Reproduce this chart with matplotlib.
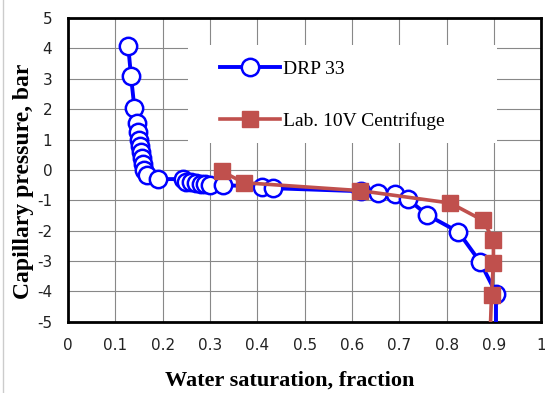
import matplotlib.pyplot as plt
from matplotlib.patches import Rectangle
from matplotlib.lines import Line2D

plt.rcParams["axes.unicode_minus"] = False

# DRP 33 (digital rock) curve
drp_sw = [0.127, 0.133, 0.14, 0.145, 0.148, 0.15, 0.152, 0.154, 0.156, 0.158,
          0.161, 0.166, 0.19, 0.243, 0.25, 0.26, 0.27, 0.28, 0.29, 0.30,
          0.328, 0.41, 0.433, 0.62, 0.655, 0.691, 0.719, 0.759, 0.825,
          0.871, 0.905, 0.905]
drp_pc = [4.08, 3.08, 2.05, 1.55, 1.25, 1.0, 0.8, 0.6, 0.4, 0.2,
          0.0, -0.15, -0.3, -0.3, -0.38, -0.4, -0.42, -0.45, -0.47, -0.48,
          -0.5, -0.55, -0.6, -0.7, -0.77, -0.8, -0.97, -1.48, -2.04,
          -3.03, -4.07, -5.0]

# Lab centrifuge curve
lab_sw = [0.325, 0.372, 0.617, 0.808, 0.877, 0.899, 0.899, 0.895, 0.893]
lab_pc = [-0.05, -0.42, -0.68, -1.09, -1.66, -2.3, -3.05, -4.12, -5.0]

xtick_labels = ["0", "0.1", "0.2", "0.3", "0.4", "0.5", "0.6", "0.7", "0.8", "0.9", "1"]

fig = plt.figure(figsize=(5.45, 3.93), dpi=100)
ax = fig.add_axes([0.125, 0.181, 0.868, 0.773])

# white legend area that hides the grid, like the Excel chart
ax.add_patch(Rectangle((0.254, 0.589), 0.653, 0.322, transform=ax.transAxes,
                       facecolor="white", edgecolor="none", zorder=1))

ax.plot(drp_sw[:-1], drp_pc[:-1], color="#0000FF", lw=2.8, marker="o", ms=12.5,
        mfc="white", mec="#0000FF", mew=1.8, label="DRP 33", zorder=3)
ax.plot(drp_sw[-2:], drp_pc[-2:], color="#0000FF", lw=2.8, zorder=3)
ax.plot(lab_sw[:-1], lab_pc[:-1], color="#C0504D", lw=2.6, marker="s", ms=11,
        mfc="#C0504D", mec="#C0504D", label="Lab. 10V Centrifuge", zorder=4)
ax.plot(lab_sw[-2:], lab_pc[-2:], color="#C0504D", lw=2.6, zorder=4)

ax.set_xlim(0, 1)
ax.set_ylim(-5, 5)
ax.set_xticks([i / 10 for i in range(11)])
ax.set_xticklabels(xtick_labels)
ax.set_yticks(range(-5, 6))
ax.tick_params(length=0, labelsize=11, labelcolor="#222222")
ax.tick_params(axis="x", pad=11.5)
ax.tick_params(axis="y", pad=11.5)
ax.grid(True, color="#888888", lw=0.8)
ax.set_axisbelow(True)
for s in ax.spines.values():
    s.set_linewidth(2)

ax.set_xlabel("Water saturation, fraction", fontfamily="Liberation Serif",
              fontweight="bold", fontsize=16, va="center")
ax.set_ylabel("Capillary pressure, bar", fontfamily="Liberation Serif",
              fontweight="bold", fontsize=17, va="center")
ax.xaxis.set_label_coords(0.469, -0.192)
ax.yaxis.set_label_coords(-0.095, 0.464)

ax.legend(loc="upper left", bbox_to_anchor=(0.321, 0.86), frameon=False,
          prop={"family": "Liberation Serif", "size": 14},
          labelspacing=1.75, handlelength=3.1, handletextpad=0.15,
          borderpad=0, borderaxespad=0)

fig.add_artist(Line2D([0.005, 0.005], [0, 1], transform=fig.transFigure,
                      color="#cccccc", lw=1))

fig.savefig("out.png", dpi=100)
